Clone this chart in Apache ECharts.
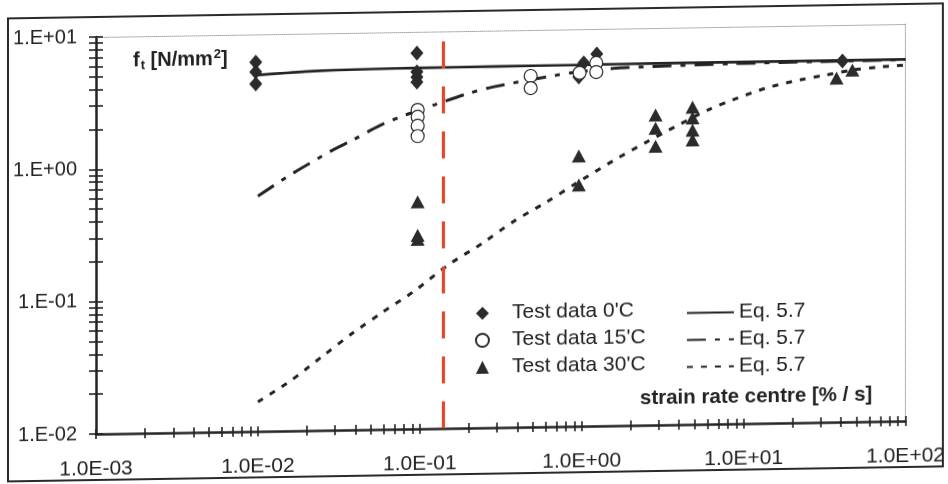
<!DOCTYPE html>
<html><head><meta charset="utf-8">
<script src="https://cdn.jsdelivr.net/npm/echarts@6/dist/echarts.min.js"></script>
<style>
html,body{margin:0;padding:0;background:#fff;overflow:hidden}
#chart{width:948px;height:484px;transform:skewY(-0.92deg);transform-origin:96px 0}
</style></head><body><div id="chart"></div>
<script>
// ---- tick labels ----
const xDecades = [0.001, 0.01, 0.1, 1, 10, 100];
const xTickLabels = ['1.0E-03', '1.0E-02', '1.0E-01', '1.0E+00', '1.0E+01', '1.0E+02'];
const yDecades = [0.01, 0.1, 1, 10];
const yTickLabels = ['1.E-02', '1.E-01', '1.E+00', '1.E+01'];

// ---- test data ----
const test0C_x = [0.0097, 0.0097, 0.0097, 0.096, 0.096, 0.096, 0.096, 0.96, 1.03, 1.24, 40.8];
const test0C_y = [6.18, 5.2, 4.22, 6.92, 4.98, 4.56, 4.18, 4.36, 5.56, 6.47, 5.35];
const test15C_x = [0.097, 0.097, 0.097, 0.097, 0.484, 0.484, 0.97, 1.23, 1.23];
const test15C_y = [2.57, 2.28, 1.95, 1.63, 4.49, 3.64, 4.68, 5.54, 4.73];
const test30C_x = [0.097, 0.097, 0.097, 0.96, 0.96, 2.86, 2.86, 2.86, 4.84, 4.84, 4.84, 4.84, 37.5, 47];
const test30C_y = [0.52, 0.29, 0.27, 1.10, 0.665, 2.20, 1.75, 1.28, 2.50, 2.07, 1.67, 1.41, 3.98, 4.56];

// ---- Eq. 5.7 curves ----
const eq0C_x = [0.01, 0.015, 0.02, 0.03, 0.05, 0.1, 0.3, 1, 3, 10, 30, 100];
const eq0C_y = [4.93, 5.08, 5.17, 5.25, 5.3, 5.33, 5.36, 5.38, 5.4, 5.4, 5.4, 5.4];
const eq15C_x = [0.01, 0.0151, 0.0182, 0.029, 0.0386, 0.0566, 0.083, 0.124, 0.195, 0.282, 0.608, 0.93, 1.55, 2.74, 8.55, 30, 100];
const eq15C_y = [0.60, 0.83, 0.95, 1.31, 1.55, 1.98, 2.38, 2.80, 3.35, 3.75, 4.40, 4.75, 5.0, 5.12, 5.26, 5.33, 5.37];
const eq30C_x = [0.01, 0.0158, 0.0252, 0.0386, 0.0591, 0.0906, 0.149, 0.245, 0.375, 0.608, 0.931, 1.60, 2.52, 4.03, 6.17, 8.55, 13.9, 22.2, 32.5, 47.1, 69.2, 100];
const eq30C_y = [0.0167, 0.0238, 0.0365, 0.054, 0.077, 0.108, 0.171, 0.249, 0.356, 0.50, 0.689, 1.02, 1.38, 1.86, 2.40, 2.80, 3.42, 3.89, 4.21, 4.56, 4.77, 4.90];

const refStrainRate = 0.137;

const pairs = (xs, ys) => xs.map((x, i) => [x, ys[i]]);
function logTicks(lo, hi) {
  const t = [];
  for (let e = lo; e < hi; e++) for (let m = 1; m <= 9; m++) t.push(+(m * Math.pow(10, e)).toPrecision(4));
  t.push(+Math.pow(10, hi).toPrecision(4));
  return t;
}
const xTicks = logTicks(-3, 2);
const yTicks = logTicks(-2, 1);
const font = "'Liberation Sans', Arial, sans-serif";
const narrow = "'Liberation Sans Narrow', 'Arial Narrow', 'Liberation Sans', sans-serif";
const ink = '#232323';
const lookup = (decs, labels) => v => {
  const i = decs.findIndex(d => Math.abs(Math.log10(d) - Math.log10(v)) < 1e-6);
  return i >= 0 ? labels[i] : '';
};

const xBase = { type: 'log', logBase: 10, min: 0.001, max: 100, splitLine: { show: false }, minorTick: { show: false } };
const yBase = { type: 'log', logBase: 10, min: 0.01, max: 10, splitLine: { show: false }, minorTick: { show: false } };
const tickStyle = { color: ink, width: 1.6 };

const option = {
  animation: false,
  backgroundColor: '#fff',
  grid: { left: 96, right: 42, top: 37, bottom: 50, containLabel: false },
  xAxis: [
    { ...xBase, position: 'bottom',
      axisLine: { show: true, lineStyle: { color: ink, width: 2.5 } },
      axisTick: { show: true, inside: false, length: 5, customValues: xTicks, lineStyle: tickStyle },
      axisLabel: { show: true, customValues: xDecades, formatter: lookup(xDecades, xTickLabels), margin: 25,
        fontSize: 21, color: '#222', fontFamily: narrow, showMinLabel: true, showMaxLabel: true, hideOverlap: false } },
    { ...xBase, position: 'bottom', axisLine: { show: false },
      axisTick: { show: true, inside: true, length: 5, customValues: xTicks, lineStyle: tickStyle },
      axisLabel: { show: false } },
    { ...xBase, position: 'top', axisLine: { show: true, lineStyle: { color: '#a0a0a0', width: 1, type: 'dotted' } },
      axisTick: { show: false }, axisLabel: { show: false } }
  ],
  yAxis: [
    { ...yBase, position: 'left',
      axisLine: { show: true, lineStyle: { color: ink, width: 2.5 } },
      axisTick: { show: true, inside: false, length: 7, customValues: yTicks, lineStyle: tickStyle },
      axisLabel: { show: true, customValues: yDecades, formatter: lookup(yDecades, yTickLabels), margin: 19,
        fontSize: 20, color: '#222', fontFamily: font, showMinLabel: true, showMaxLabel: true, hideOverlap: false } },
    { ...yBase, position: 'left', axisLine: { show: false },
      axisTick: { show: true, inside: true, length: 7, customValues: yTicks, lineStyle: tickStyle },
      axisLabel: { show: false } },
    { ...yBase, position: 'right', axisLine: { show: true, lineStyle: { color: '#a0a0a0', width: 1, type: 'dotted' } },
      axisTick: { show: false }, axisLabel: { show: false } }
  ],
  title: [
    { left: 133, top: 49, padding: 0,
      text: '{b|f}{sub|t}{b| [N/mm}{sup|2}{b|]}',
      textStyle: { rich: {
        b: { fontSize: 20, fontWeight: 'bold', color: '#222', fontFamily: font },
        sub: { fontSize: 13, fontWeight: 'bold', color: '#222', fontFamily: font, padding: [11, 0, 0, 1] },
        sup: { fontSize: 13, fontWeight: 'bold', color: '#222', fontFamily: font, padding: [0, 0, 9, 1] } } } },
    { left: 640, top: 397, padding: 0, text: 'strain rate centre [% / s]',
      textStyle: { fontSize: 20.5, fontWeight: 'bold', color: '#222', fontFamily: font } }
  ],
  legend: [
    { orient: 'vertical', left: 475, top: 309, itemGap: 6, itemWidth: 13, itemHeight: 13, padding: 0,
      data: ["Test data 0'C", "Test data 15'C", "Test data 30'C"],
      textStyle: { fontSize: 21, color: '#222', fontFamily: font, lineHeight: 21, padding: [0, 0, 0, 18] } },
    { orient: 'vertical', left: 686, top: 312, itemGap: 6, itemWidth: 47, itemHeight: 14, padding: 0,
      data: ['Eq. 5.7', 'Eq. 5.7 ', 'Eq. 5.7  '],
      formatter: n => n.trim(),
      itemStyle: { color: 'rgba(0,0,0,0)', borderWidth: 0, opacity: 0 },
      textStyle: { fontSize: 21, color: '#222', fontFamily: font, lineHeight: 21 } }
  ],
  graphic: [
    { type: 'rect', silent: true, z: -1, shape: { x: 8, y: 17, width: 935, height: 463 },
      style: { fill: 'none', stroke: '#2a2a2a', lineWidth: 2 } }
  ],
  series: [
    { name: 'Eq. 5.7', type: 'line', data: pairs(eq0C_x, eq0C_y), showSymbol: false, symbol: 'none', smooth: 0.3,
      lineStyle: { color: ink, width: 2.6, type: 'solid' }, itemStyle: { color: ink }, z: 2,
      markLine: { silent: true, symbol: 'none', label: { show: false },
        lineStyle: { color: '#e4462b', width: 3.2, type: [27, 18] },
        data: [{ xAxis: refStrainRate }] } },
    { name: 'Eq. 5.7 ', type: 'line', data: pairs(eq15C_x, eq15C_y), showSymbol: false, symbol: 'none', smooth: 0.3,
      lineStyle: { color: ink, width: 3, type: [19, 9, 5, 9] }, itemStyle: { color: ink }, z: 2 },
    { name: 'Eq. 5.7  ', type: 'line', data: pairs(eq30C_x, eq30C_y), showSymbol: false, symbol: 'none', smooth: 0.3,
      lineStyle: { color: ink, width: 3, type: [6, 8] }, itemStyle: { color: ink }, z: 2 },
    { name: "Test data 0'C", type: 'scatter', data: pairs(test0C_x, test0C_y), symbol: 'diamond', symbolSize: [13, 15],
      itemStyle: { color: '#2b2b2b', opacity: 1 }, z: 3 },
    { name: "Test data 15'C", type: 'scatter', data: pairs(test15C_x, test15C_y), symbol: 'circle', symbolSize: 13,
      itemStyle: { color: '#fff', borderColor: '#2b2b2b', borderWidth: 1.2, opacity: 1 }, z: 4 },
    { name: "Test data 30'C", type: 'scatter', data: pairs(test30C_x, test30C_y), symbol: 'triangle', symbolSize: [14, 13],
      itemStyle: { color: '#2b2b2b', opacity: 1 }, z: 3 }
  ]
};
const chart = echarts.init(document.getElementById('chart'), null, { renderer: 'canvas' });
chart.setOption(option);
</script></body></html>
